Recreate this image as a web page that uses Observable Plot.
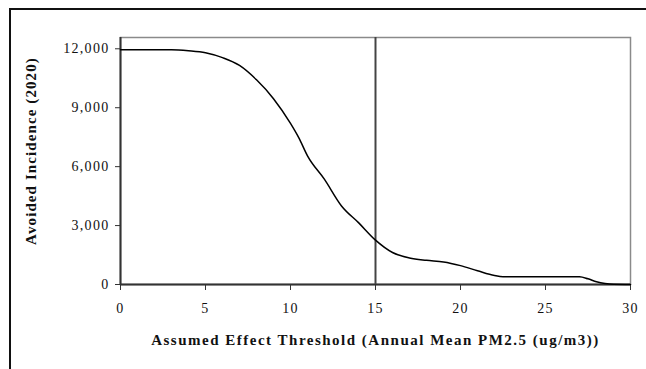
<!DOCTYPE html>
<html>
<head>
<meta charset="utf-8">
<script src="https://cdn.jsdelivr.net/npm/d3@7"></script>
<script src="https://cdn.jsdelivr.net/npm/@observablehq/plot@0.6"></script>
<style>
  html, body { margin: 0; padding: 0; background: #fff; }
  #wrap { position: relative; width: 646px; height: 369px; overflow: hidden; }
  #border { position: absolute; left: 9px; top: 8px; right: 0; bottom: -2px;
            border-top: 2px solid #111; border-left: 2px solid #111; pointer-events: none; }
  #wrap svg { position: absolute; left: 0; top: 0; }
  .xttl text { font-weight: bold; letter-spacing: 1.5px; }
  .yttl text { font-weight: bold; letter-spacing: 1.1px; }
  .tk text { letter-spacing: 1.3px; }
</style>
</head>
<body>
<div id="wrap"><div id="border"></div></div>
<script>
// Threshold (annual mean PM2.5, ug/m3)
const thresholds = [0, 1, 2, 3, 4, 5, 6, 7, 8, 9, 10, 10.5, 11, 12, 13, 14, 15, 16, 17, 18, 19, 20, 21, 22, 22.5, 23, 24, 25, 26, 27, 27.5, 28, 28.5, 29, 30];
// Avoided incidence (2020)
const avoided = [11950, 11950, 11950, 11950, 11900, 11800, 11550, 11150, 10420, 9460, 8200, 7450, 6550, 5350, 4000, 3150, 2260, 1630, 1350, 1230, 1150, 960, 700, 460, 400, 400, 400, 400, 400, 395, 290, 140, 50, 10, 0];
const xTicks = [0, 5, 10, 15, 20, 25, 30];
const yTicks = [0, 3000, 6000, 9000, 12000];
const standard = [15];
const xTitle = "Assumed Effect Threshold (Annual Mean PM2.5 (ug/m3))";
const yTitle = "Avoided Incidence (2020)";

const data = thresholds.map((t, i) => ({t, v: avoided[i]}));

const chart = Plot.plot({
  width: 646,
  height: 369,
  marginLeft: 120,
  marginRight: 16,
  marginTop: 37,
  marginBottom: 85,
  style: {fontFamily: "'Liberation Serif', 'Times New Roman', serif", fontSize: "14px", color: "#111", background: "transparent"},
  x: {domain: [0, 30]},
  y: {domain: [0, 12575]},
  marks: [
    Plot.frame({stroke: "#8a8a8a", strokeWidth: 1.5}),
    Plot.axisX(xTicks, {tickSize: 6, tickPadding: 13, label: null, fontSize: 14, stroke: "#333", className: "tk"}),
    Plot.axisY(yTicks, {tickSize: 5, tickPadding: 6, tickFormat: d3.format(","), label: null, fontSize: 14, stroke: "#333", className: "tk"}),
    Plot.ruleY([0], {stroke: "#333", strokeWidth: 2}),
    Plot.ruleX([0], {stroke: "#333", strokeWidth: 2}),
    Plot.ruleX(standard, {stroke: "#444", strokeWidth: 2}),
    Plot.line(data, {x: "t", y: "v", stroke: "#000", strokeWidth: 1.5, curve: "monotone-x"}),
    Plot.text([xTitle], {text: d => d, frameAnchor: "bottom", textAnchor: "middle", lineAnchor: "middle", dy: 56, fontSize: 15, fontWeight: "bold", className: "xttl"}),
    Plot.text([yTitle], {text: d => d, frameAnchor: "left", textAnchor: "middle", lineAnchor: "middle", rotate: -90, dx: -89, dy: -10, fontSize: 15, fontWeight: "bold", className: "yttl"})
  ]
});
document.getElementById("wrap").prepend(chart);
</script>
</body>
</html>
